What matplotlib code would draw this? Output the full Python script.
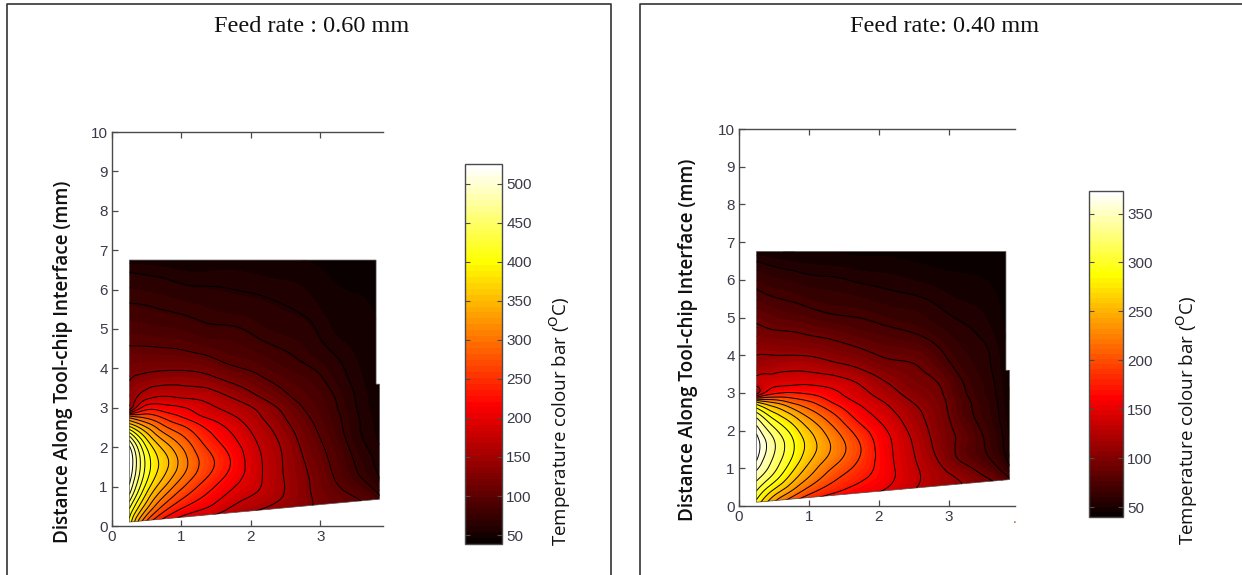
import numpy as np
import matplotlib
matplotlib.use("Agg")
import matplotlib.pyplot as plt
import matplotlib.tri as mtri
from matplotlib.cm import ScalarMappable
from matplotlib.colors import Normalize
from matplotlib.lines import Line2D
from matplotlib.patches import Polygon

W, H = 1242, 575

grid_x = [0.25, 0.5, 0.75, 1.0, 1.35, 1.7, 2.1, 2.5, 2.85, 3.2, 3.55, 3.9]
grid_y = [0.05, 0.4, 0.8, 1.2, 1.7, 2.2, 2.6, 2.8, 2.95, 3.2, 3.6, 4.0, 4.5, 5.0, 5.6, 6.2, 6.8]

# one list per x position, bottom to top along grid_y
temp_060_by_x = [
    [390, 420, 475, 510, 525, 470, 350, 270, 150, 135, 128, 118, 102, 89, 76, 66, 49],
    [260, 320, 370, 405, 415, 375, 305, 260, 225, 178, 142, 120, 102, 87, 75, 64, 49],
    [200, 255, 305, 345, 360, 320, 268, 240, 218, 185, 148, 122, 101, 85, 73, 62, 48],
    [170, 220, 262, 298, 315, 285, 245, 222, 208, 180, 148, 122, 99, 83, 71, 59, 48],
    [150, 195, 225, 250, 262, 240, 215, 195, 185, 172, 143, 117, 93, 78, 68, 58, 48],
    [140, 170, 195, 215, 225, 208, 190, 178, 170, 155, 128, 104, 88, 77, 65, 58, 48],
    [130, 150, 172, 180, 180, 172, 160, 153, 148, 132, 110, 95, 81, 71, 63, 56, 47],
    [120, 135, 148, 148, 146, 140, 129, 123, 118, 107, 95, 84, 74, 66, 60, 54, 46],
    [110, 125, 126, 124, 118, 110, 103, 99, 96, 92, 85, 76, 67, 62, 56, 51, 45],
    [100, 110, 108, 100, 94, 87, 82, 80, 78, 76, 70, 65, 58, 53, 49, 46, 43],
    [100, 105, 95, 78, 70, 63, 61, 60, 59, 58, 56, 54, 52, 50, 47, 45, 42],
    [85, 85, 70, 57, 54, 52, 51, 50, 50, 49, 48, 47, 46, 45, 44, 43, 42],
]
temp_040_by_x = [
    [280, 310, 340, 365, 372, 345, 290, 230, 135, 132, 118, 110, 97, 87, 73, 62, 46],
    [225, 265, 305, 325, 332, 300, 255, 215, 175, 147, 125, 110, 95, 82, 69, 58, 45],
    [185, 230, 265, 288, 295, 270, 230, 200, 178, 150, 129, 110, 94, 79, 67, 56, 44],
    [160, 200, 232, 253, 262, 240, 208, 188, 172, 151, 128, 109, 91, 76, 64, 54, 44],
    [140, 175, 198, 218, 225, 205, 180, 165, 157, 145, 122, 103, 87, 72, 62, 53, 44],
    [135, 160, 178, 190, 192, 172, 155, 146, 140, 132, 113, 97, 81, 70, 60, 51, 43],
    [135, 148, 158, 158, 156, 146, 134, 127, 121, 113, 100, 88, 76, 66, 57, 50, 43],
    [125, 130, 135, 132, 128, 120, 113, 108, 104, 99, 93, 85, 72, 63, 55, 48, 42],
    [120, 118, 118, 110, 104, 101, 98, 96, 94, 91, 82, 74, 65, 58, 52, 46, 42],
    [110, 110, 105, 88, 85, 80, 76, 75, 73, 71, 66, 62, 58, 54, 49, 45, 41],
    [100, 100, 88, 73, 68, 64, 62, 61, 60, 59, 57, 56, 53, 50, 47, 44, 41],
    [85, 85, 65, 50, 47, 46, 45, 44, 44, 43, 43, 42, 42, 41, 41, 40, 40],
]

levels_060 = [60, 75, 100, 125, 150, 175, 200, 225, 250, 275, 300, 325, 350, 375, 400, 425, 450, 475, 500]
levels_040 = [55, 70, 90, 110, 130, 150, 170, 190, 210, 230, 250, 270, 290, 310, 330, 350, 365]
outline_060 = [(0.25, 0.1), (3.85, 0.68), (3.85, 3.6), (3.8, 3.6), (3.8, 6.75), (0.25, 6.75)]
outline_040 = [(0.25, 0.1), (3.87, 0.7), (3.87, 3.6), (3.82, 3.6), (3.82, 6.75), (0.25, 6.75)]
xticks = [0, 1, 2, 3]
yticks = list(range(11))
cb_ticks_060 = [50, 100, 150, 200, 250, 300, 350, 400, 450, 500]
cb_ticks_040 = [50, 100, 150, 200, 250, 300, 350]
titles = ["Feed rate : 0.60 mm", "Feed rate: 0.40 mm"]
ylabel = "Distance Along Tool-chip Interface (mm)"
cblabel = "Temperature colour bar ($^{\\mathrm{O}}$C)"

TICKFONT = "Liberation Sans"
GREY = "#4a4a4a"
TICKCOL = "#3a3a48"

fig = plt.figure(figsize=(W / 100, H / 100), dpi=100, facecolor="white")


def rect(x0, y0, x1, y1):
    return [x0 / W, 1 - y1 / H, (x1 - x0) / W, (y1 - y0) / H]


def frame(xs, ys):
    fig.add_artist(Line2D([x / W for x in xs], [1 - y / H for y in ys], color="#333333", lw=1.2))


def panel(by_x, levels, outline, box, xmax, cb_box, cb_range, cb_ticks, cb_label_xy, ylabel_xy, title, title_xy):
    ax = fig.add_axes(rect(*box))
    X, Y = np.meshgrid(grid_x, grid_y)
    values = np.array(by_x, float).T
    tri = mtri.Triangulation(X.ravel(), Y.ravel())
    fine_tri, fine_val = mtri.UniformTriRefiner(tri).refine_field(values.ravel(), subdiv=3)
    vmin, vmax = cb_range
    norm = Normalize(vmin, vmax)
    cmap = plt.get_cmap("hot", 64)
    clip = Polygon(outline, closed=True, transform=ax.transData, fc="none", ec="none")
    ax.add_patch(clip)
    fill = ax.tricontourf(fine_tri, np.clip(fine_val, vmin, vmax),
                          levels=np.linspace(vmin, vmax, 65), cmap=cmap, norm=norm)
    lines = ax.tricontour(fine_tri, fine_val, levels=levels, colors="black", linewidths=0.7)
    fill.set_clip_path(clip)
    lines.set_clip_path(clip)
    ax.add_patch(Polygon(outline, closed=True, fc="none", ec="#555555", lw=0.5))
    ax.set_xlim(0, xmax)
    ax.set_ylim(0, 10)
    ax.set_xticks(xticks)
    ax.set_yticks(yticks)
    ax.tick_params(direction="in", top=True, length=4.5, width=0.9, color=GREY,
                   labelsize=11, labelcolor=TICKCOL, pad=3)
    for lab in ax.get_xticklabels() + ax.get_yticklabels():
        lab.set_fontfamily(TICKFONT)
    for side in ("left", "top", "bottom"):
        ax.spines[side].set_color(GREY)
        ax.spines[side].set_linewidth(1.0)
    ax.spines["right"].set_visible(False)

    cax = fig.add_axes(rect(*cb_box))
    cb = fig.colorbar(ScalarMappable(norm=norm, cmap=cmap), cax=cax, ticks=cb_ticks)
    cb.ax.tick_params(direction="in", left=True, right=True, length=3.5, width=0.8, color=GREY,
                      labelsize=11, labelcolor=TICKCOL, pad=3)
    for lab in cb.ax.get_yticklabels():
        lab.set_fontfamily(TICKFONT)
    cb.outline.set_edgecolor(GREY)
    cb.outline.set_linewidth(1.0)
    fig.text(cb_label_xy[0] / W, 1 - cb_label_xy[1] / H, cblabel, rotation=90, ha="center", va="center",
             fontsize=13.5, family="Open Sans", color="#111111", math_fontfamily="dejavusans")
    fig.text(ylabel_xy[0] / W, 1 - ylabel_xy[1] / H, ylabel, rotation=90, ha="center", va="center",
             fontsize=13.6, family="Open Sans", fontweight="semibold", color="#111111")
    fig.text(title_xy[0] / W, 1 - title_xy[1] / H, title, ha="center", va="center",
             fontsize=17.5, family="Liberation Serif", color="#111111")
    return ax


panel(temp_060_by_x, levels_060, outline_060, (112, 132, 383, 526), 3.9,
      (465, 164, 502, 544), (38.5, 525.5), cb_ticks_060, (560, 421), (63, 362),
      titles[0], (312, 26))
ax_r = panel(temp_040_by_x, levels_040, outline_040, (739, 129, 1015, 506), 3.95,
             (1089, 191, 1123, 517), (40, 373), cb_ticks_040, (1187, 420), (688, 340),
             titles[1], (945, 26))
ax_r.text(1.0, -0.035, ".", transform=ax_r.transAxes, ha="center", va="center",
          fontsize=10, color="#a06030", family=TICKFONT)

frame([7, 7, 611, 611], [575, 4, 4, 575])
frame([640, 640, 1242], [575, 4, 4])

fig.savefig("out.png", dpi=100)
